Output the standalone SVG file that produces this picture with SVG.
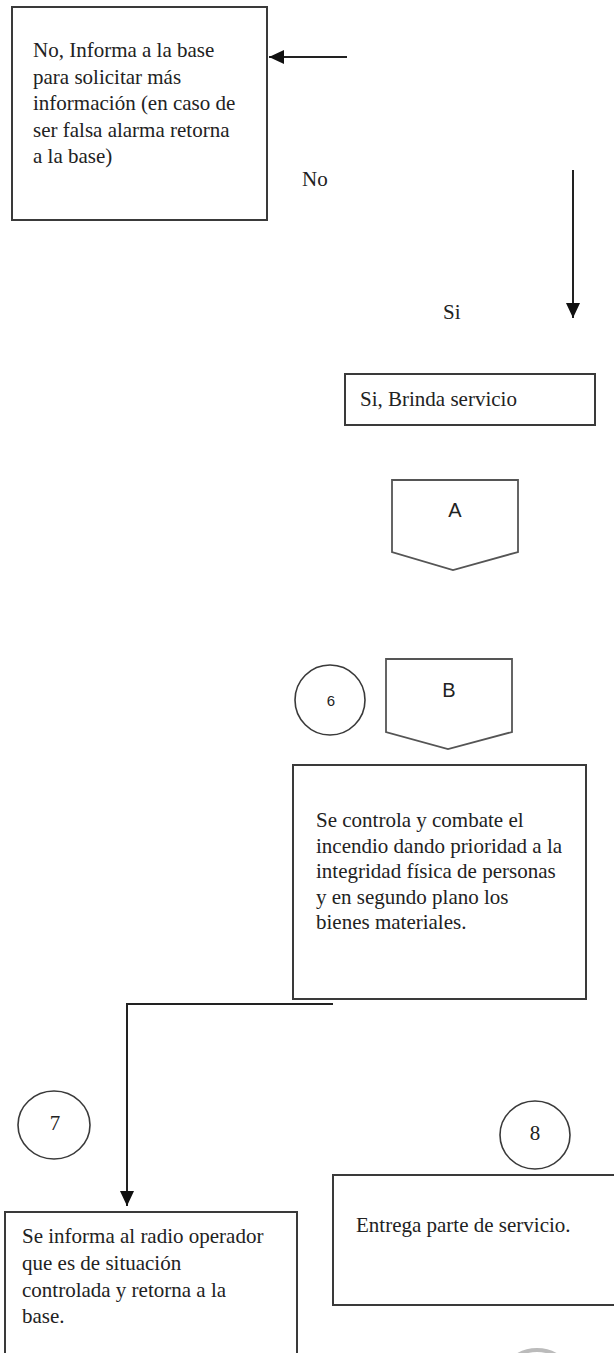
<svg xmlns="http://www.w3.org/2000/svg" width="614" height="1353" viewBox="0 0 614 1353">
<style>
.box{fill:#fff;stroke:#3a3a3a;stroke-width:2}
.circ{fill:#fff;stroke:#3a3a3a;stroke-width:1.6}
.off{fill:#fff;stroke:#555;stroke-width:1.8}
.t{font-family:"Liberation Serif","Times New Roman",serif;font-size:21px;fill:#222}
.s{font-family:"Liberation Sans",Arial,sans-serif;fill:#222}
.c{stroke:#222;stroke-width:2;fill:none}
</style>
<defs>
<marker id="ah" markerUnits="userSpaceOnUse" markerWidth="16" markerHeight="14" refX="15" refY="7" orient="auto">
<path d="M0,0 L15,7 L0,14 Z" fill="#111"/>
</marker>
</defs>
<rect width="614" height="1353" fill="#fff"/>

<g id="connectors">
<line class="c" x1="347" y1="57" x2="269" y2="57" marker-end="url(#ah)"/>
<line class="c" x1="573" y1="170" x2="573" y2="318" marker-end="url(#ah)"/>
<polyline class="c" points="333,1004 127,1004 127,1206" marker-end="url(#ah)"/>
</g>

<g id="node-no">
<rect class="box" x="12" y="7" width="255" height="213"/>
<text class="t" x="33" y="57">No, Informa a la base</text>
<text class="t" x="33" y="83.5">para solicitar más</text>
<text class="t" x="33" y="110">información (en caso de</text>
<text class="t" x="33" y="136.5">ser falsa alarma retorna</text>
<text class="t" x="33" y="163">a la base)</text>
</g>

<g id="label-no"><text class="t" x="302" y="186">No</text></g>
<g id="label-si"><text class="t" x="443" y="319">Si</text></g>

<g id="node-si">
<rect class="box" x="345" y="374" width="250" height="51"/>
<text class="t" x="360" y="406">Si, Brinda servicio</text>
</g>

<g id="node-A">
<path class="off" d="M392,480 H518 V552 L453,570 L392,552 Z"/>
<text class="s" x="455" y="517" font-size="20" text-anchor="middle">A</text>
</g>

<g id="node-6">
<circle class="circ" cx="330" cy="700" r="35"/>
<text class="s" x="331" y="706" font-size="15" text-anchor="middle">6</text>
</g>

<g id="node-B">
<path class="off" d="M386,659 H512 V732 L448,749 L386,732 Z"/>
<text class="s" x="449" y="697" font-size="20" text-anchor="middle">B</text>
</g>

<g id="node-controla">
<rect class="box" x="293" y="765" width="293" height="234"/>
<text class="t" x="316" y="827">Se controla y combate el</text>
<text class="t" x="316" y="853">incendio dando prioridad a la</text>
<text class="t" x="316" y="878">integridad física de personas</text>
<text class="t" x="316" y="904">y en segundo plano los</text>
<text class="t" x="316" y="929">bienes materiales.</text>
</g>

<g id="node-7">
<ellipse class="circ" cx="54" cy="1125" rx="36" ry="34"/>
<text class="t" x="55" y="1130" font-size="15" text-anchor="middle">7</text>
</g>

<g id="node-8">
<ellipse class="circ" cx="535" cy="1135" rx="35" ry="34"/>
<text class="t" x="535" y="1140" font-size="15" text-anchor="middle">8</text>
</g>

<g id="node-informa">
<rect class="box" x="5" y="1212" width="292" height="160"/>
<text class="t" x="22" y="1243">Se informa al radio operador</text>
<text class="t" x="22" y="1270">que es de situación</text>
<text class="t" x="22" y="1297">controlada y retorna a la</text>
<text class="t" x="22" y="1323">base.</text>
</g>

<g id="node-entrega">
<rect class="box" x="333" y="1175" width="300" height="130"/>
<text class="t" x="356" y="1232">Entrega parte de servicio.</text>
</g>

<g id="node-9">
<circle cx="537" cy="1388" r="38" fill="#fff" stroke="#bbb" stroke-width="4"/>
</g>
</svg>
